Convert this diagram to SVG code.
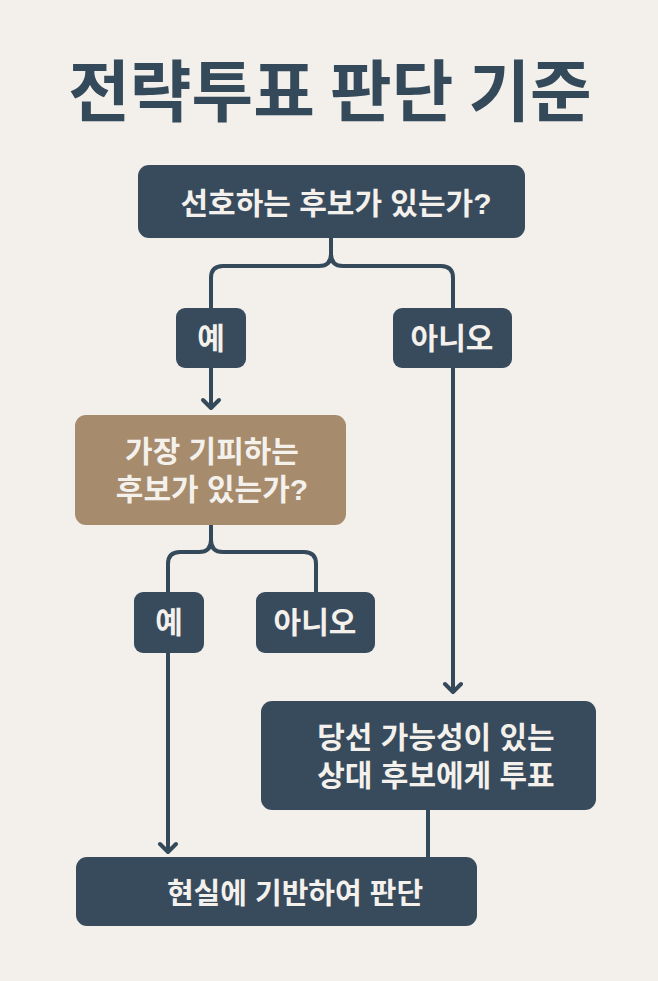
<svg xmlns="http://www.w3.org/2000/svg" width="658" height="981" viewBox="0 0 658 981">
<style>
.bg{fill:#f3f0eb}
.box{fill:#384b5d}
.tan{fill:#a68b6c}
.t{font-family:"Liberation Sans","Noto Sans CJK KR",sans-serif;font-weight:700;fill:#f4f1ec;text-anchor:middle;font-size:30px}
.title{font-family:"Noto Sans CJK KR","Noto Sans",sans-serif;font-weight:700;fill:#34495a;text-anchor:middle;font-size:67px}
.c{fill:none;stroke:#34495a;stroke-width:4;stroke-linecap:round;stroke-linejoin:round}
</style>
<rect class="bg" x="0" y="0" width="658" height="981"/>
<text class="title" x="330" y="116">전략투표 판단 기준</text>
<g id="connectors">
<path class="c" d="M331 238 V254 Q331 266 319 266 H223 Q211 266 211 278 V308"/>
<path class="c" d="M331 254 Q331 266 343 266 H441 Q453 266 453 278 V308"/>
<path class="c" d="M211 368 V408 M203 400 L211 408 L219 400"/>
<path class="c" d="M211 525 V540 Q211 552 199 552 H180 Q168 552 168 564 V592"/>
<path class="c" d="M211 540 Q211 552 223 552 H304 Q316 552 316 564 V592"/>
<path class="c" d="M168 653 V852 M160 844 L168 852 L176 844"/>
<path class="c" d="M453 368 V692 M445 684 L453 692 L461 684"/>
<path class="c" d="M428 810 V857"/>
</g>
<g id="q1"><rect class="box" x="138" y="165" width="387" height="73" rx="11"/><text class="t" x="336" y="214">선호하는 후보가 있는가?</text></g>
<g id="yes1"><rect class="box" x="176" y="308" width="70" height="60" rx="9"/><text class="t" x="211" y="349">예</text></g>
<g id="no1"><rect class="box" x="393" y="308" width="119" height="60" rx="9"/><text class="t" x="452" y="349">아니오</text></g>
<g id="q2"><rect class="tan" x="75" y="415" width="271" height="110" rx="11"/><text class="t"><tspan x="212" y="462">가장 기피하는</tspan><tspan x="212" y="500">후보가 있는가?</tspan></text></g>
<g id="yes2"><rect class="box" x="134" y="592" width="70" height="61" rx="9"/><text class="t" x="169" y="633">예</text></g>
<g id="no2"><rect class="box" x="256" y="592" width="119" height="61" rx="9"/><text class="t" x="315" y="633">아니오</text></g>
<g id="vote"><rect class="box" x="261" y="701" width="335" height="109" rx="11"/><text class="t"><tspan x="436" y="748">당선 가능성이 있는</tspan><tspan x="436" y="786">상대 후보에게 투표</tspan></text></g>
<g id="real"><rect class="box" x="76" y="857" width="401" height="69" rx="11"/><text class="t" x="295" y="904" style="font-size:29px">현실에 기반하여 판단</text></g>
</svg>
